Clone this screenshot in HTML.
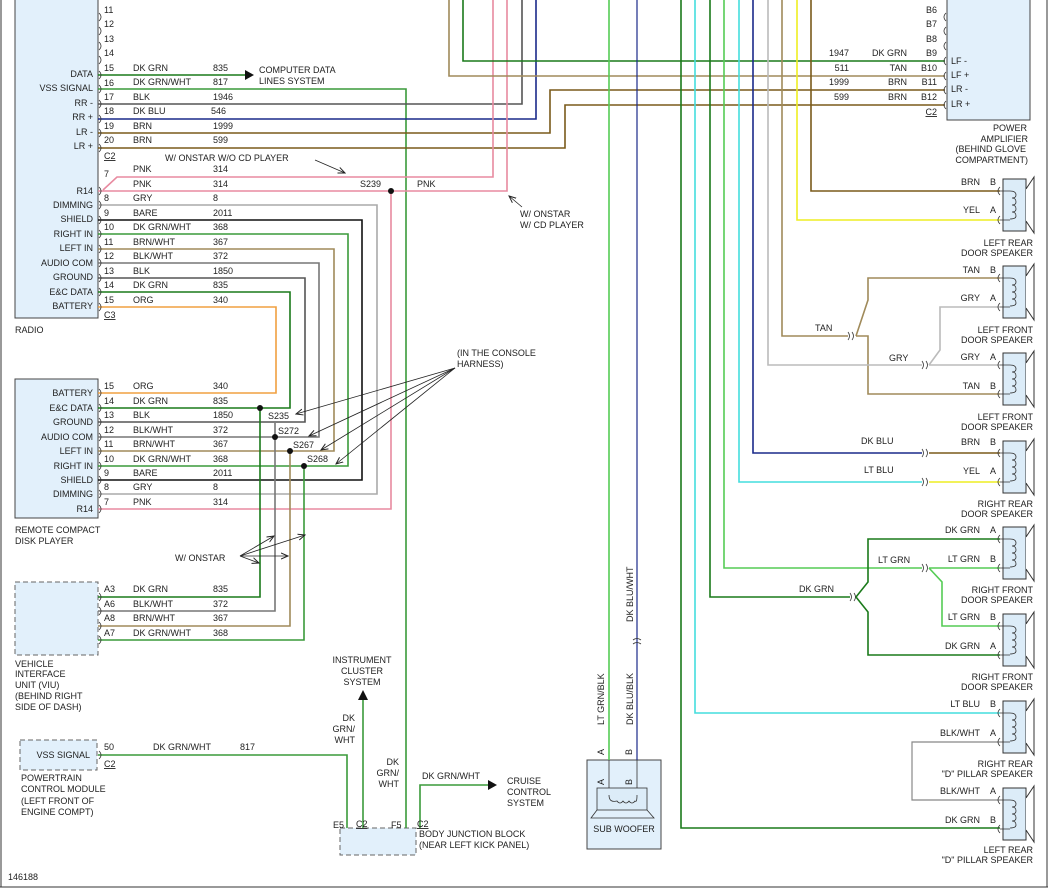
<!DOCTYPE html>
<html><head><meta charset="utf-8"><style>
html,body{margin:0;padding:0;background:#fff}
svg{display:block}
text{font-family:"Liberation Sans",sans-serif;font-size:9px;fill:#222}
.r{text-anchor:end}
</style></head><body>
<svg width="1052" height="890" viewBox="0 0 1052 890" xmlns="http://www.w3.org/2000/svg">
<defs>
<marker id="ah" markerWidth="8" markerHeight="8" refX="7" refY="4" orient="auto" markerUnits="userSpaceOnUse"><path d="M0,1 L7,4 L0,7" fill="none" stroke="#222" stroke-width="1"/></marker>
<g id="spk">
<rect x="1003" y="-12" width="23" height="52" fill="#dcecf8" stroke="#333" stroke-width="1"/>
<path d="M1026,-2 L1034,-14 L1034,42 L1026,30" fill="#fff" stroke="#333" stroke-width="1"/>
<path d="M1000,0 L1010,0 M1000,29 L1010,29 M1010,0 q6,0 6,4 q0,3 -4,3 q4,0 4,4 q0,3 -4,3 q4,0 4,4 q0,3 -4,3 q4,0 4,4 q0,3 -6,3" fill="none" stroke="#333" stroke-width="0.8"/>
<path d="M1000,-4 q-4,4 0,8 M1000,25 q-4,4 0,8" fill="none" stroke="#333" stroke-width="0.8"/>
</g>
<path id="pr" d="M0,-4 q4,4 0,8" fill="none" stroke="#333" stroke-width="0.8"/>
<path id="pl" d="M0,-4 q-4,4 0,8" fill="none" stroke="#333" stroke-width="0.8"/>
</defs>
<!-- frame -->
<line x1="1" y1="0" x2="1" y2="887" stroke="#333"/>
<line x1="1047" y1="0" x2="1047" y2="887" stroke="#333"/>
<line x1="0" y1="887" x2="1048" y2="887" stroke="#333"/>

<!-- boxes -->
<rect x="15" y="-1" width="83" height="319" fill="#e2f0fb" stroke="#444"/>
<rect x="15" y="379" width="83" height="139" fill="#e2f0fb" stroke="#444"/>
<rect x="15" y="582" width="83" height="73" fill="#e2f0fb" stroke="#666" stroke-dasharray="5,3"/>
<rect x="20" y="740" width="77" height="30" fill="#e2f0fb" stroke="#666" stroke-dasharray="5,3"/>
<rect x="947" y="-1" width="83" height="121" fill="#e2f0fb" stroke="#444"/>
<rect x="340" y="828" width="76" height="27" fill="#e2f0fb" stroke="#666" stroke-dasharray="5,3"/>
<rect x="587" y="760" width="74" height="89" fill="#e2f0fb" stroke="#444"/>

<g fill="none" stroke-width="1.6">
<polyline points="98,75 245,75" stroke="#1a7a1a"/>
<polyline points="98,89 406,89 406,828" stroke="#3a9a3a"/>
<polyline points="98,104 522,104 522,0" stroke="#555"/>
<polyline points="98,119 536,119 536,0" stroke="#1a2a8a"/>
<polyline points="98,133 550,133 550,90 945,90" stroke="#7a5a1a"/>
<polyline points="98,148 565,148 565,105 945,105" stroke="#7a5a1a"/>
<polyline points="103,190 117,177 493,177 493,0" stroke="#e88aa0"/>
<polyline points="98,191 507,191 507,0" stroke="#e88aa0"/>
<polyline points="391,191 391,509 98,509" stroke="#e88aa0"/>
<polyline points="98,205 377,205 377,494 98,494" stroke="#aaa"/>
<polyline points="98,220 362,220 362,480 98,480" stroke="#111"/>
<polyline points="98,234 348,234 348,466 98,466" stroke="#3a9a3a"/>
<polyline points="98,249 334,249 334,451 98,451" stroke="#a08a5a"/>
<polyline points="98,263 319,263 319,437 98,437" stroke="#777"/>
<polyline points="98,278 305,278 305,422 98,422" stroke="#555"/>
<polyline points="98,292 290,292 290,408 98,408" stroke="#1a7a1a"/>
<polyline points="98,307 276,307 276,393 98,393" stroke="#f0a040"/>
<polyline points="260,408 260,597 98,597" stroke="#1a7a1a"/>
<polyline points="275,423 275,611 98,611" stroke="#777"/>
<polyline points="290,451 290,626 98,626" stroke="#a08a5a"/>
<polyline points="304,466 304,640 98,640" stroke="#3a9a3a"/>
<polyline points="98,755 347,755 347,828" stroke="#3a9a3a"/>
<polyline points="363,828 363,700" stroke="#3a9a3a"/>
<polyline points="420,828 420,785 490,785" stroke="#3a9a3a"/>
<polyline points="463,0 463,61 945,61" stroke="#1a7a1a"/>
<polyline points="449,0 449,76 945,76" stroke="#a08a5a"/>
<polyline points="609,0 609,760" stroke="#5c5"/>
<polyline points="637,0 637,760" stroke="#1a2a8a" stroke-width="1.2"/>
<polyline points="811,0 811,191 1000,191" stroke="#7a5a1a"/>
<polyline points="797,0 797,220 1000,220" stroke="#ee2"/>
<polyline points="782,0 782,336 848,336" stroke="#a08a5a"/>
<polyline points="856,336 868,300 868,278 1000,278" stroke="#a08a5a"/>
<polyline points="856,336 868,336 868,394 1000,394" stroke="#a08a5a"/>
<polyline points="768,0 768,365 922,365" stroke="#bbb"/>
<polyline points="929,365 940,350 940,307 1000,307" stroke="#bbb"/>
<polyline points="929,365 1000,365" stroke="#bbb"/>
<polyline points="753,0 753,453 922,453" stroke="#1a2a8a"/>
<polyline points="929,453 1000,453" stroke="#7a5a1a"/>
<polyline points="739,0 739,482 922,482" stroke="#4dd"/>
<polyline points="929,482 1000,482" stroke="#ee2"/>
<polyline points="724,0 724,568 922,568" stroke="#5c5"/>
<polyline points="929,568 1000,568" stroke="#5c5"/>
<polyline points="929,568 942,582 942,626 1000,626" stroke="#5c5"/>
<polyline points="710,0 710,597 850,597" stroke="#1a7a1a"/>
<polyline points="856,597 868,582 868,539 1000,539" stroke="#1a7a1a"/>
<polyline points="856,597 868,612 868,655 1000,655" stroke="#1a7a1a"/>
<polyline points="695,0 695,713 1000,713" stroke="#4dd"/>
<polyline points="1000,742 912,742 912,800 1000,800" stroke="#888" stroke-width="1.2"/>
<polyline points="681,0 681,828 1000,828" stroke="#1a7a1a"/>
</g>
<polygon points="245,70 254,75 245,80" fill="#111"/>
<polygon points="358,700 363,690 368,700" fill="#111"/>
<polygon points="488,780 497,785 488,790" fill="#111"/>
<g fill="#111"><circle cx="391" cy="191" r="3"/><circle cx="260" cy="408" r="3"/><circle cx="275" cy="437" r="3"/><circle cx="290" cy="451" r="3"/><circle cx="304" cy="466" r="3"/></g>
<!-- pin marks -->
<g>
<use href="#pr" x="99" y="17"/><use href="#pr" x="99" y="31"/><use href="#pr" x="99" y="46"/><use href="#pr" x="99" y="60"/>
<use href="#pr" x="99" y="75"/><use href="#pr" x="99" y="89"/><use href="#pr" x="99" y="104"/><use href="#pr" x="99" y="119"/>
<use href="#pr" x="99" y="133"/><use href="#pr" x="99" y="148"/><use href="#pr" x="99" y="191"/><use href="#pr" x="99" y="205"/>
<use href="#pr" x="99" y="220"/><use href="#pr" x="99" y="234"/><use href="#pr" x="99" y="249"/><use href="#pr" x="99" y="263"/>
<use href="#pr" x="99" y="278"/><use href="#pr" x="99" y="292"/><use href="#pr" x="99" y="307"/>
<use href="#pr" x="99" y="393"/><use href="#pr" x="99" y="408"/><use href="#pr" x="99" y="422"/><use href="#pr" x="99" y="437"/>
<use href="#pr" x="99" y="451"/><use href="#pr" x="99" y="466"/><use href="#pr" x="99" y="480"/><use href="#pr" x="99" y="494"/><use href="#pr" x="99" y="509"/>
<use href="#pr" x="99" y="597"/><use href="#pr" x="99" y="611"/><use href="#pr" x="99" y="626"/><use href="#pr" x="99" y="640"/>
<use href="#pr" x="99" y="755"/>
<use href="#pl" x="946" y="17"/><use href="#pl" x="946" y="31"/><use href="#pl" x="946" y="46"/><use href="#pl" x="946" y="61"/>
<use href="#pl" x="946" y="76"/><use href="#pl" x="946" y="90"/><use href="#pl" x="946" y="105"/>
</g>
<g fill="none" stroke="#333" stroke-width="0.8">
<path d="M848,332 q3,4 0,8 M852,332 q3,4 0,8 M922,361 q3,4 0,8 M926,361 q3,4 0,8 M922,449 q3,4 0,8 M926,449 q3,4 0,8 M922,478 q3,4 0,8 M926,478 q3,4 0,8 M922,564 q3,4 0,8 M926,564 q3,4 0,8 M850,593 q3,4 0,8 M854,593 q3,4 0,8 M633,640 q4,-3 8,0 M633,644 q4,-3 8,0"/>
</g>
<use href="#spk" y="191"/><use href="#spk" y="278"/><use href="#spk" y="365"/><use href="#spk" y="453"/>
<use href="#spk" y="539"/><use href="#spk" y="626"/><use href="#spk" y="713"/><use href="#spk" y="800"/>

<rect x="597" y="788" width="50" height="22" fill="#dcecf8" stroke="#333" stroke-width="0.8"/>
<path d="M597,810 L591,818 L654,818 L647,810" fill="none" stroke="#333" stroke-width="0.8"/>
<path d="M609,760 L609,788 M637,760 L637,788 M609,795 q0,8 8,6 q3,4 6,0 q3,4 6,0 q3,4 6,0 q2,2 2,-6" fill="none" stroke="#333" stroke-width="0.8"/>
<text x="624" y="832" text-anchor="middle" font-size="8.5">SUB WOOFER</text>
<text x="604" y="755" transform="rotate(-90 604 755)" font-size="8">A</text>
<text x="632" y="755" transform="rotate(-90 632 755)" font-size="8">B</text>
<text x="604" y="785" transform="rotate(-90 604 785)" font-size="8">A</text>
<text x="632" y="785" transform="rotate(-90 632 785)" font-size="8">B</text>
<text x="604" y="725" transform="rotate(-90 604 725)" font-size="8.5">LT GRN/BLK</text>
<text x="633" y="725" transform="rotate(-90 633 725)" font-size="8.5">DK BLU/BLK</text>
<text x="633" y="622" transform="rotate(-90 633 622)" font-size="8.5">DK BLU/WHT</text>

<g stroke="#222" stroke-width="0.8" fill="none" marker-end="url(#ah)">
<line x1="315" y1="160" x2="345" y2="173"/>
<line x1="522" y1="207" x2="509" y2="196"/>
<line x1="455" y1="368" x2="296" y2="414"/>
<line x1="455" y1="368" x2="309" y2="436"/>
<line x1="455" y1="368" x2="321" y2="450"/>
<line x1="455" y1="368" x2="336" y2="464"/>
<line x1="240" y1="556" x2="274" y2="536"/>
<line x1="240" y1="556" x2="305" y2="535"/>
<line x1="240" y1="556" x2="288" y2="556"/>
<line x1="240" y1="556" x2="259" y2="563"/>
</g>

<g>
<text class="r" x="93" y="77">DATA</text><text class="r" x="93" y="91">VSS SIGNAL</text>
<text class="r" x="93" y="106">RR -</text><text class="r" x="93" y="120">RR +</text>
<text class="r" x="93" y="135">LR -</text><text class="r" x="93" y="149">LR +</text>
<text class="r" x="93" y="194">R14</text><text class="r" x="93" y="208">DIMMING</text>
<text class="r" x="93" y="222">SHIELD</text><text class="r" x="93" y="237">RIGHT IN</text>
<text class="r" x="93" y="251">LEFT IN</text><text class="r" x="93" y="266">AUDIO COM</text>
<text class="r" x="93" y="280">GROUND</text><text class="r" x="93" y="295">E&amp;C DATA</text>
<text class="r" x="93" y="309">BATTERY</text>
<text class="r" x="93" y="396">BATTERY</text><text class="r" x="93" y="411">E&amp;C DATA</text>
<text class="r" x="93" y="425">GROUND</text><text class="r" x="93" y="440">AUDIO COM</text>
<text class="r" x="93" y="454">LEFT IN</text><text class="r" x="93" y="469">RIGHT IN</text>
<text class="r" x="93" y="483">SHIELD</text><text class="r" x="93" y="497">DIMMING</text>
<text class="r" x="93" y="512">R14</text>
<text class="r" x="90" y="758">VSS SIGNAL</text>
</g>
<g font-size="8.5">
<text x="104" y="13">11</text><text x="104" y="27">12</text><text x="104" y="42">13</text><text x="104" y="56">14</text>
<text x="104" y="71">15</text><text x="133" y="71">DK GRN</text><text x="213" y="71">835</text>
<text x="104" y="86">16</text><text x="133" y="85">DK GRN/WHT</text><text x="213" y="85">817</text>
<text x="104" y="100">17</text><text x="133" y="100">BLK</text><text x="213" y="100">1946</text>
<text x="104" y="114">18</text><text x="133" y="114">DK BLU</text><text x="211" y="114">546</text>
<text x="104" y="129">19</text><text x="133" y="129">BRN</text><text x="213" y="129">1999</text>
<text x="104" y="143">20</text><text x="133" y="143">BRN</text><text x="213" y="143">599</text>
<text x="104" y="159" text-decoration="underline">C2</text>
<text x="104" y="177">7</text><text x="133" y="172">PNK</text><text x="213" y="172">314</text>
<text x="133" y="187">PNK</text><text x="213" y="187">314</text>
<text x="104" y="201">8</text><text x="133" y="201">GRY</text><text x="213" y="201">8</text>
<text x="104" y="216">9</text><text x="133" y="216">BARE</text><text x="213" y="216">2011</text>
<text x="104" y="230">10</text><text x="133" y="230">DK GRN/WHT</text><text x="213" y="230">368</text>
<text x="104" y="245">11</text><text x="133" y="245">BRN/WHT</text><text x="213" y="245">367</text>
<text x="104" y="259">12</text><text x="133" y="259">BLK/WHT</text><text x="213" y="259">372</text>
<text x="104" y="274">13</text><text x="133" y="274">BLK</text><text x="213" y="274">1850</text>
<text x="104" y="288">14</text><text x="133" y="288">DK GRN</text><text x="213" y="288">835</text>
<text x="104" y="303">15</text><text x="133" y="303">ORG</text><text x="213" y="303">340</text>
<text x="104" y="318" text-decoration="underline">C3</text>
<text x="104" y="389">15</text><text x="133" y="389">ORG</text><text x="213" y="389">340</text>
<text x="104" y="404">14</text><text x="133" y="404">DK GRN</text><text x="213" y="404">835</text>
<text x="104" y="418">13</text><text x="133" y="418">BLK</text><text x="213" y="418">1850</text>
<text x="104" y="433">12</text><text x="133" y="433">BLK/WHT</text><text x="213" y="433">372</text>
<text x="104" y="447">11</text><text x="133" y="447">BRN/WHT</text><text x="213" y="447">367</text>
<text x="104" y="462">10</text><text x="133" y="462">DK GRN/WHT</text><text x="213" y="462">368</text>
<text x="104" y="476">9</text><text x="133" y="476">BARE</text><text x="213" y="476">2011</text>
<text x="104" y="490">8</text><text x="133" y="490">GRY</text><text x="213" y="490">8</text>
<text x="104" y="505">7</text><text x="133" y="505">PNK</text><text x="213" y="505">314</text>
<text x="104" y="592">A3</text><text x="133" y="592">DK GRN</text><text x="213" y="592">835</text>
<text x="104" y="607">A6</text><text x="133" y="607">BLK/WHT</text><text x="213" y="607">372</text>
<text x="104" y="621">A8</text><text x="133" y="621">BRN/WHT</text><text x="213" y="621">367</text>
<text x="104" y="636">A7</text><text x="133" y="636">DK GRN/WHT</text><text x="213" y="636">368</text>
<text x="104" y="750">50</text><text x="153" y="750">DK GRN/WHT</text><text x="240" y="750">817</text>
<text x="104" y="767" text-decoration="underline">C2</text>
</g>
<text x="259" y="73">COMPUTER DATA</text><text x="259" y="84">LINES SYSTEM</text>
<text x="165" y="161">W/ ONSTAR W/O CD PLAYER</text>
<text x="360" y="187">S239</text><text x="417" y="187">PNK</text>
<text x="520" y="217">W/ ONSTAR</text><text x="520" y="228">W/ CD PLAYER</text>
<text x="15" y="333">RADIO</text>
<text x="15" y="533">REMOTE COMPACT</text><text x="15" y="544">DISK PLAYER</text>
<text x="15" y="667">VEHICLE</text><text x="15" y="677">INTERFACE</text><text x="15" y="688">UNIT (VIU)</text><text x="15" y="699">(BEHIND RIGHT</text><text x="15" y="710">SIDE OF DASH)</text>
<text x="21" y="781">POWERTRAIN</text><text x="21" y="792">CONTROL MODULE</text><text x="21" y="804">(LEFT FRONT OF</text><text x="21" y="815">ENGINE COMPT)</text>
<text x="457" y="356">(IN THE CONSOLE</text><text x="457" y="367">HARNESS)</text>
<text x="268" y="419">S235</text><text x="278" y="434">S272</text><text x="293" y="448">S267</text><text x="307" y="462">S268</text>
<text x="175" y="561">W/ ONSTAR</text>
<text x="362" y="663" text-anchor="middle">INSTRUMENT</text><text x="362" y="674" text-anchor="middle">CLUSTER</text><text x="362" y="685" text-anchor="middle">SYSTEM</text>
<text class="r" x="355" y="721">DK</text><text class="r" x="355" y="732">GRN/</text><text class="r" x="355" y="743">WHT</text>
<text class="r" x="399" y="765">DK</text><text class="r" x="399" y="776">GRN/</text><text class="r" x="399" y="787">WHT</text>
<text x="422" y="779">DK GRN/WHT</text>
<text x="507" y="784">CRUISE</text><text x="507" y="795">CONTROL</text><text x="507" y="806">SYSTEM</text>
<text x="333" y="828">E5</text><text x="356" y="827" text-decoration="underline">C2</text>
<text x="391" y="828">F5</text><text x="417" y="827" text-decoration="underline">C2</text>
<text x="419" y="837">BODY JUNCTION BLOCK</text><text x="419" y="848">(NEAR LEFT KICK PANEL)</text>
<text x="8" y="880" font-size="8">146188</text>

<g font-size="8.5">
<text class="r" x="937" y="13">B6</text><text class="r" x="937" y="27">B7</text><text class="r" x="937" y="42">B8</text>
<text class="r" x="937" y="56">B9</text><text class="r" x="937" y="71">B10</text><text class="r" x="937" y="85">B11</text>
<text class="r" x="937" y="100">B12</text><text class="r" x="937" y="115" text-decoration="underline">C2</text>
<text class="r" x="849" y="56">1947</text><text class="r" x="907" y="56">DK GRN</text>
<text class="r" x="849" y="71">511</text><text class="r" x="907" y="71">TAN</text>
<text class="r" x="849" y="85">1999</text><text class="r" x="907" y="85">BRN</text>
<text class="r" x="849" y="100">599</text><text class="r" x="907" y="100">BRN</text>
</g>
<text x="951" y="64">LF -</text><text x="951" y="78">LF +</text><text x="951" y="92">LR -</text><text x="951" y="107">LR +</text>
<g>
<text class="r" x="1027" y="131">POWER</text><text class="r" x="1028" y="142">AMPLIFIER</text><text class="r" x="1026" y="152">(BEHIND GLOVE</text><text class="r" x="1028" y="163">COMPARTMENT)</text>
</g>
<g font-size="8.5">
<text class="r" x="980" y="185">BRN</text><text x="990" y="185">B</text>
<text class="r" x="980" y="213">YEL</text><text x="990" y="213">A</text>
<text class="r" x="980" y="273">TAN</text><text x="990" y="273">B</text>
<text class="r" x="980" y="301">GRY</text><text x="990" y="301">A</text>
<text class="r" x="980" y="360">GRY</text><text x="990" y="360">A</text>
<text class="r" x="980" y="389">TAN</text><text x="990" y="389">B</text>
<text class="r" x="980" y="445">BRN</text><text x="990" y="445">B</text>
<text class="r" x="980" y="474">YEL</text><text x="990" y="474">A</text>
<text class="r" x="980" y="533">DK GRN</text><text x="990" y="533">A</text>
<text class="r" x="980" y="562">LT GRN</text><text x="990" y="562">B</text>
<text class="r" x="980" y="620">LT GRN</text><text x="990" y="620">B</text>
<text class="r" x="980" y="649">DK GRN</text><text x="990" y="649">A</text>
<text class="r" x="980" y="707">LT BLU</text><text x="990" y="707">B</text>
<text class="r" x="980" y="736">BLK/WHT</text><text x="990" y="736">A</text>
<text class="r" x="980" y="794">BLK/WHT</text><text x="990" y="794">A</text>
<text class="r" x="980" y="823">DK GRN</text><text x="990" y="823">B</text>
<text x="815" y="331">TAN</text><text x="889" y="361">GRY</text>
<text x="861" y="444">DK BLU</text><text x="864" y="473">LT BLU</text>
<text x="878" y="563">LT GRN</text><text x="799" y="592">DK GRN</text>
</g>
<g>
<text class="r" x="1033" y="246">LEFT REAR</text><text class="r" x="1033" y="256">DOOR SPEAKER</text>
<text class="r" x="1033" y="333">LEFT FRONT</text><text class="r" x="1033" y="343">DOOR SPEAKER</text>
<text class="r" x="1033" y="420">LEFT FRONT</text><text class="r" x="1033" y="430">DOOR SPEAKER</text>
<text class="r" x="1033" y="507">RIGHT REAR</text><text class="r" x="1033" y="517">DOOR SPEAKER</text>
<text class="r" x="1033" y="593">RIGHT FRONT</text><text class="r" x="1033" y="603">DOOR SPEAKER</text>
<text class="r" x="1033" y="680">RIGHT FRONT</text><text class="r" x="1033" y="690">DOOR SPEAKER</text>
<text class="r" x="1033" y="767">RIGHT REAR</text><text class="r" x="1033" y="777">"D" PILLAR SPEAKER</text>
<text class="r" x="1033" y="853">LEFT REAR</text><text class="r" x="1033" y="863">"D" PILLAR SPEAKER</text>
</g>
</svg>
</body></html>
